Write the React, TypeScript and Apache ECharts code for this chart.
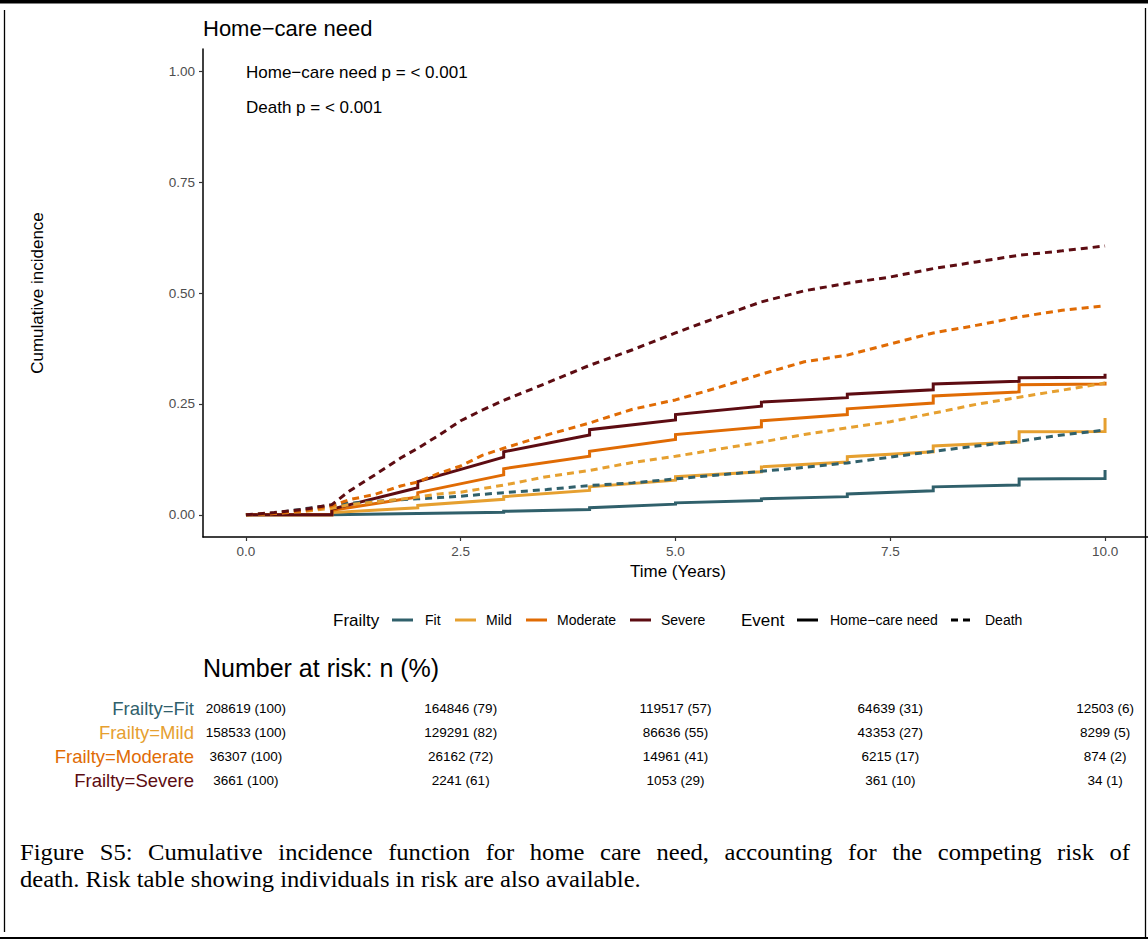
import React, { useEffect, useRef } from "react";
import * as echarts from "echarts";

const FRAILTY = ["Fit", "Mild", "Moderate", "Severe"];
const COLORS = ["#30606B", "#E6A030", "#E06B04", "#5D0C12"];

const X_TICKS = [0, 2.5, 5, 7.5, 10];
const Y_TICKS = [0, 0.25, 0.5, 0.75, 1];

// Home-care need (solid, step): value just after the jump at year k, value just before year k+1
const HOME_START_FIT = [0, 0.001, 0.004, 0.008, 0.016, 0.027, 0.036, 0.047, 0.063, 0.081];
const HOME_END_FIT = [0, 0.003, 0.006, 0.012, 0.024, 0.032, 0.041, 0.054, 0.067, 0.082];
const HOME_START_MILD = [0, 0.005, 0.021, 0.041, 0.063, 0.086, 0.108, 0.131, 0.155, 0.187];
const HOME_END_MILD = [0, 0.016, 0.035, 0.055, 0.078, 0.097, 0.119, 0.142, 0.164, 0.188];
const HOME_START_MOD = [0, 0.01, 0.05, 0.104, 0.143, 0.181, 0.212, 0.239, 0.268, 0.293];
const HOME_END_MOD = [0, 0.04, 0.09, 0.132, 0.17, 0.198, 0.226, 0.252, 0.277, 0.295];
const HOME_START_SEV = [0, 0.013, 0.075, 0.142, 0.192, 0.226, 0.254, 0.272, 0.295, 0.309];
const HOME_END_SEV = [0, 0.061, 0.13, 0.18, 0.214, 0.245, 0.264, 0.282, 0.301, 0.31];
const HOME_FINAL = [0.101, 0.218, 0.3, 0.318];

// Death (dashed)
const DEATH_T = [0, 0.33, 0.7, 1, 1.2, 1.5, 1.8, 2, 2.25, 2.5, 2.75, 3, 3.5, 4, 4.5, 5, 5.5, 6, 6.5, 7, 7.5, 8, 8.5, 9, 9.5, 10];
const DEATH_FIT = [0, 0.004, 0.014, 0.022, 0.026, 0.03, 0.034, 0.036, 0.039, 0.042, 0.046, 0.05, 0.057, 0.066, 0.072, 0.081, 0.09, 0.098, 0.107, 0.117, 0.13, 0.143, 0.155, 0.166, 0.18, 0.191];
const DEATH_MILD = [0, 0.003, 0.008, 0.015, 0.023, 0.029, 0.035, 0.04, 0.047, 0.051, 0.059, 0.067, 0.086, 0.1, 0.118, 0.132, 0.148, 0.164, 0.181, 0.196, 0.21, 0.229, 0.249, 0.265, 0.281, 0.297];
const DEATH_MOD = [0, 0.003, 0.01, 0.02, 0.034, 0.046, 0.065, 0.074, 0.094, 0.11, 0.134, 0.15, 0.18, 0.207, 0.238, 0.259, 0.287, 0.317, 0.345, 0.36, 0.385, 0.41, 0.427, 0.446, 0.461, 0.471];
const DEATH_SEV = [0, 0.005, 0.013, 0.023, 0.053, 0.09, 0.128, 0.15, 0.18, 0.212, 0.236, 0.258, 0.297, 0.337, 0.372, 0.41, 0.446, 0.48, 0.505, 0.522, 0.536, 0.555, 0.57, 0.585, 0.595, 0.606];

// Number at risk
const RISK_TIMES = [0, 2.5, 5, 7.5, 10];
const RISK_N_FIT = [208619, 164846, 119517, 64639, 12503];
const RISK_P_FIT = [100, 79, 57, 31, 6];
const RISK_N_MILD = [158533, 129291, 86636, 43353, 8299];
const RISK_P_MILD = [100, 82, 55, 27, 5];
const RISK_N_MOD = [36307, 26162, 14961, 6215, 874];
const RISK_P_MOD = [100, 72, 41, 17, 2];
const RISK_N_SEV = [3661, 2241, 1053, 361, 34];
const RISK_P_SEV = [100, 61, 29, 10, 1];

const CAPTION_1 = "Figure S5: Cumulative incidence function for home care need, accounting for the competing risk of";
const CAPTION_2 = "death. Risk table showing individuals in risk are also available.";

const SANS = '"Liberation Sans", Arial, Helvetica, sans-serif';
const SERIF = '"Liberation Serif", "Times New Roman", serif';

function stepData(starts: number[], ends: number[], final: number): [number, number][] {
  const pts: [number, number][] = [];
  for (let k = 0; k < starts.length; k++) {
    pts.push([k, starts[k]]);
    pts.push([k + 1, ends[k]]);
  }
  pts.push([starts.length, final]);
  return pts;
}

export default function App() {
  const ref = useRef<HTMLDivElement>(null);

  useEffect(() => {
    document.body.style.margin = "0";
    const chart = echarts.init(ref.current!, null, { renderer: "svg" });

    const homeStarts = [HOME_START_FIT, HOME_START_MILD, HOME_START_MOD, HOME_START_SEV];
    const homeEnds = [HOME_END_FIT, HOME_END_MILD, HOME_END_MOD, HOME_END_SEV];
    const deaths = [DEATH_FIT, DEATH_MILD, DEATH_MOD, DEATH_SEV];

    const series: any[] = [];
    FRAILTY.forEach((f, i) => {
      series.push({
        type: "line",
        name: `${f} home-care need`,
        data: stepData(homeStarts[i], homeEnds[i], HOME_FINAL[i]),
        showSymbol: false,
        symbol: "none",
        lineStyle: { color: COLORS[i], width: 3, type: "solid", cap: "butt", join: "miter" },
        z: 2,
      });
    });
    FRAILTY.forEach((f, i) => {
      series.push({
        type: "line",
        name: `${f} death`,
        data: DEATH_T.map((t, j) => [t, deaths[i][j]]),
        showSymbol: false,
        symbol: "none",
        lineStyle: { color: COLORS[i], width: 3, type: [7, 5], cap: "butt" },
        z: 3,
      });
    });

    chart.setOption({
      animation: false,
      backgroundColor: "#ffffff",
      textStyle: { fontFamily: SANS },
      grid: { left: 203, top: 49, width: 950, height: 488, containLabel: false },
      xAxis: {
        type: "value",
        min: -0.5,
        max: 10.5,
        axisLine: { show: true, onZero: false, lineStyle: { color: "#000", width: 1.5 } },
        axisTick: { show: true, length: 4, customValues: X_TICKS, lineStyle: { color: "#333", width: 1.2 } },
        axisLabel: {
          customValues: X_TICKS,
          formatter: (v: number) => v.toFixed(1),
          color: "#4D4D4D",
          fontSize: 13.5,
          margin: 7,
          fontFamily: SANS,
        },
        splitLine: { show: false },
      },
      yAxis: {
        type: "value",
        min: -0.05,
        max: 1.05,
        axisLine: { show: true, onZero: false, lineStyle: { color: "#000", width: 1.5 } },
        axisTick: { show: true, length: 4, customValues: Y_TICKS, lineStyle: { color: "#333", width: 1.2 } },
        axisLabel: {
          customValues: Y_TICKS,
          formatter: (v: number) => v.toFixed(2),
          color: "#4D4D4D",
          fontSize: 13.5,
          margin: 8,
          fontFamily: SANS,
        },
        splitLine: { show: false },
      },
      series,
    });

    const xs = RISK_TIMES.map((t) => chart.convertToPixel({ xAxisIndex: 0 }, t) as number);

    const els: any[] = [];
    const text = (x: number, y: number, t: string, size: number, opts: any = {}) => ({
      type: "text",
      x,
      y,
      silent: true,
      rotation: opts.rotation || 0,
      scaleX: opts.scaleX || 1,
      style: {
        text: t,
        fontSize: size,
        fontFamily: opts.fontFamily || SANS,
        fill: opts.fill || "#000",
        textAlign: opts.align || "left",
        textVerticalAlign: "middle",
      },
    });
    const line = (x1: number, y1: number, x2: number, y2: number, color: string, w: number, dash?: number[]) => ({
      type: "line",
      silent: true,
      shape: { x1, y1, x2, y2 },
      style: { stroke: color, lineWidth: w, lineDash: dash || null, lineCap: "butt" },
    });

    // Page frame
    els.push({ type: "rect", silent: true, shape: { x: 0, y: 0, width: 1148, height: 3.5 }, style: { fill: "#000" } });
    els.push(line(4.5, 10, 4.5, 932, "#000", 1.3));
    els.push(line(1145.5, 8, 1145.5, 938, "#000", 1.3));
    els.push(line(0, 938, 1148, 938, "#000", 2));

    // Titles
    els.push(text(203, 28, "Home\u2212care need", 22));
    els.push(text(246, 72, "Home\u2212care need p = < 0.001", 17));
    els.push(text(246, 107, "Death p = < 0.001", 17));
    els.push(text(37, 293, "Cumulative incidence", 17, { rotation: Math.PI / 2, align: "center" }));
    els.push(text(678, 571, "Time (Years)", 17, { align: "center" }));

    // Legend
    const ly = 620;
    els.push(text(333, ly, "Frailty", 17));
    const keyX = [392, 455, 526, 630];
    const labX = [425, 486, 557, 661];
    FRAILTY.forEach((f, i) => {
      els.push(line(keyX[i], ly, keyX[i] + 21, ly, COLORS[i], 3));
      els.push(text(labX[i], ly, f, 14));
    });
    els.push(text(741, ly, "Event", 17));
    els.push(line(797, ly, 818, ly, "#000", 3));
    els.push(text(830, ly, "Home\u2212care need", 14));
    els.push(line(951, ly, 972, ly, "#000", 3, [7, 5]));
    els.push(text(985, ly, "Death", 14));

    // Risk table
    els.push(text(203, 668, "Number at risk: n (%)", 25));
    const riskN = [RISK_N_FIT, RISK_N_MILD, RISK_N_MOD, RISK_N_SEV];
    const riskP = [RISK_P_FIT, RISK_P_MILD, RISK_P_MOD, RISK_P_SEV];
    const rowY = [708, 732, 756, 780];
    FRAILTY.forEach((f, i) => {
      els.push(text(194, rowY[i], `Frailty=${f}`, 18.5, { align: "right", fill: COLORS[i] }));
      xs.forEach((x, j) => {
        els.push(text(x, rowY[i], `${riskN[i][j]} (${riskP[i][j]})`, 13.5, { align: "center" }));
      });
    });

    // Caption (first line justified)
    const capSize = 23;
    const capScale = 1.07;
    const ctx = document.createElement("canvas").getContext("2d")!;
    ctx.font = `${capSize}px ${SERIF}`;
    const words = CAPTION_1.split(" ");
    const widths = words.map((w) => ctx.measureText(w).width * capScale);
    const total = widths.reduce((a, b) => a + b, 0);
    const left = 20;
    const right = 1130;
    const gap = (right - left - total) / (words.length - 1);
    let cx = left;
    words.forEach((w, i) => {
      els.push(text(cx, 852, w, capSize, { fontFamily: SERIF, scaleX: capScale }));
      cx += widths[i] + gap;
    });
    els.push(text(left, 879, CAPTION_2, capSize, { fontFamily: SERIF, scaleX: capScale }));

    chart.setOption({ graphic: { elements: els } });

    return () => chart.dispose();
  }, []);

  return <div ref={ref} style={{ position: "absolute", left: 0, top: 0, width: 1148, height: 940 }} />;
}
